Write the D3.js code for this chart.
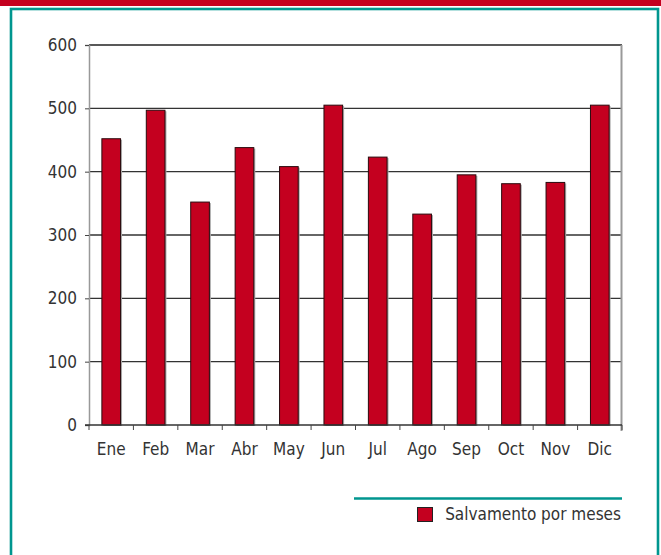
<!DOCTYPE html>
<html>
<head>
<meta charset="utf-8">
<script src="https://cdn.jsdelivr.net/npm/d3@7"></script>
<style>
  body { margin: 0; background: #fff; }
  svg { display: block; }
</style>
</head>
<body>
<div></div>
<script>
const months = ["Ene", "Feb", "Mar", "Abr", "May", "Jun", "Jul", "Ago", "Sep", "Oct", "Nov", "Dic"];
const salvamentos = [452, 497, 352, 438, 408, 505, 423, 333, 395, 381, 383, 505];
const yTicks = [0, 100, 200, 300, 400, 500, 600];
const seriesName = "Salvamento por meses";

const W = 661, H = 555;
const red = "#c4001f";
const teal = "#00968f";
const font = "'DejaVu Sans Condensed', 'DejaVu Sans', sans-serif";
const textCol = "#333";

const svg = d3.select("div").append("svg").attr("width", W).attr("height", H);

// top band + frame
svg.append("rect").attr("x", 0).attr("y", 0).attr("width", W).attr("height", 6).attr("fill", red);
svg.append("rect")
  .attr("x", 11).attr("y", 9)
  .attr("width", 647).attr("height", 560)
  .attr("fill", "none").attr("stroke", teal).attr("stroke-width", 2.6);

const x = d3.scaleBand().domain(months).range([89, 622]).paddingInner(0.58).paddingOuter(0.29);
const y = d3.scaleLinear().domain([0, 600]).range([425, 45]);

const plot = svg.append("g");

// grid lines
plot.selectAll("line.grid")
  .data(yTicks.filter(d => d > 0))
  .enter().append("line")
  .attr("class", "grid")
  .attr("x1", 89).attr("x2", 622)
  .attr("y1", d => y(d)).attr("y2", d => y(d))
  .attr("stroke", d => d === 600 ? "#222" : "#333")
  .attr("stroke-width", 1.3);

// right border
plot.append("line").attr("x1", 621.5).attr("x2", 621.5).attr("y1", y(600)).attr("y2", y(0) + 6)
  .attr("stroke", "#999").attr("stroke-width", 2);

// bar shadows
plot.selectAll("rect.shadow")
  .data(salvamentos)
  .enter().append("rect")
  .attr("class", "shadow")
  .attr("x", (d, i) => x(months[i]) + 1.5)
  .attr("y", d => y(d) + 1)
  .attr("width", x.bandwidth())
  .attr("height", d => y(0) - y(d))
  .attr("fill", "#aaa");

// bars
plot.selectAll("rect.bar")
  .data(salvamentos)
  .enter().append("rect")
  .attr("class", "bar")
  .attr("x", (d, i) => x(months[i]))
  .attr("y", d => y(d))
  .attr("width", x.bandwidth())
  .attr("height", d => y(0) - y(d))
  .attr("fill", red)
  .attr("stroke", "#2a0a0e")
  .attr("stroke-width", 1);

// y axis
const yAxis = d3.axisLeft(y).tickValues(yTicks).tickSize(4).tickPadding(8);
const gy = svg.append("g").attr("transform", "translate(89,0)").call(yAxis);
gy.select(".domain").attr("stroke", "#999").attr("stroke-width", 1.5);
gy.selectAll(".tick line").attr("stroke", "#444");
gy.selectAll("text").attr("font-family", font).attr("font-size", 17).attr("fill", textCol);

// x axis (line at zero, ticks at category boundaries)
svg.append("line").attr("x1", 85).attr("x2", 622).attr("y1", y(0)).attr("y2", y(0))
  .attr("stroke", "#333").attr("stroke-width", 1.5);
const step = x.step();
const bounds = d3.range(months.length + 1).map(i => x.range()[0] + i * step);
svg.selectAll("line.xtick")
  .data(bounds)
  .enter().append("line")
  .attr("x1", d => d).attr("x2", d => d)
  .attr("y1", y(0)).attr("y2", y(0) + 5)
  .attr("stroke", "#444").attr("stroke-width", 1);
svg.selectAll("text.xlab")
  .data(months)
  .enter().append("text")
  .attr("x", d => x(d) + x.bandwidth() / 2)
  .attr("y", 455)
  .attr("text-anchor", "middle")
  .attr("font-family", font).attr("font-size", 17).attr("fill", textCol)
  .text(d => d);

// legend
svg.append("line").attr("x1", 354).attr("x2", 622).attr("y1", 498.5).attr("y2", 498.5)
  .attr("stroke", teal).attr("stroke-width", 2.5);
svg.append("rect").attr("x", 417.5).attr("y", 507.5).attr("width", 15).attr("height", 14)
  .attr("fill", red).attr("stroke", "#222").attr("stroke-width", 1);
svg.append("text").attr("x", 621).attr("y", 520)
  .attr("text-anchor", "end")
  .attr("font-family", font).attr("font-size", 17).attr("fill", textCol)
  .text(seriesName);
</script>
</body>
</html>
